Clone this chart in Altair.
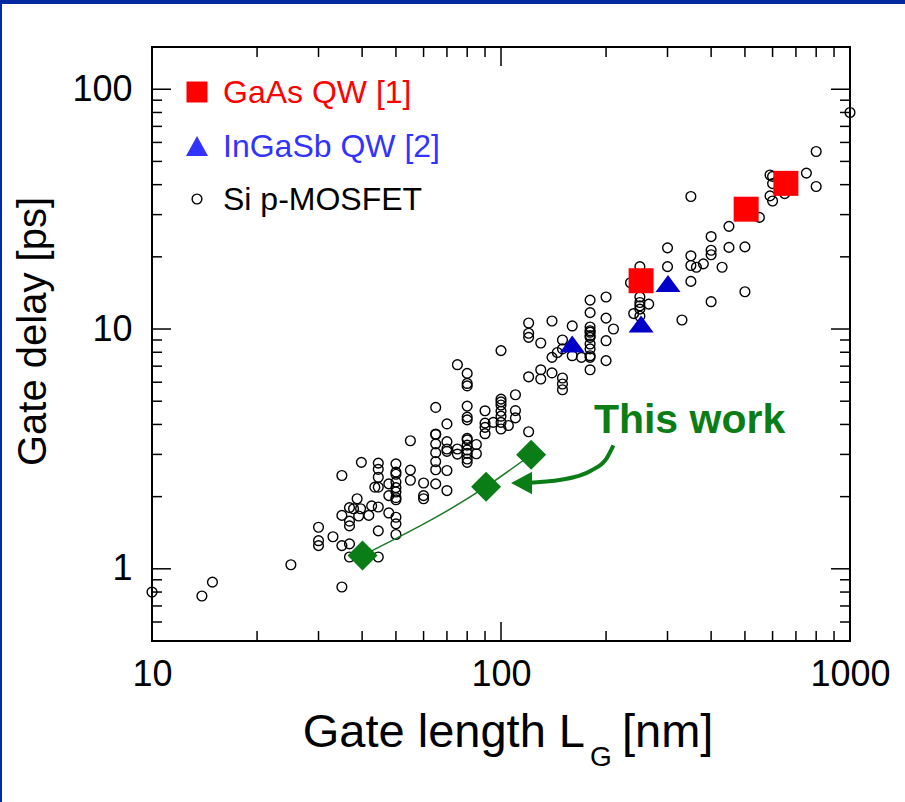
import altair as alt
import pandas as pd

# ---------------- data ----------------
si_L = [10, 13.9, 14.9, 25, 35,
        30, 30, 30, 33,
        35, 35, 35,
        36.8, 36.8, 36.8, 36.8, 36.8,
        37.8, 38.7, 39.6, 39.1, 39.8,
        41.8, 42.6,
        44.5, 44.5, 44.5, 44.5, 44.5, 44.5, 44.5, 43.5,
        47.7, 47.7, 47.7,
        50, 50, 50, 50, 50, 50, 50, 50, 50, 50, 50,
        55, 55, 55,
        60, 60, 60,
        65, 65, 65, 65, 65, 65, 65, 65,
        70, 70, 70, 70, 70, 70,
        75, 75, 75,
        80, 80, 80, 80, 80, 80, 80, 80, 80, 80, 80, 80, 80,
        85, 85,
        90, 90, 90, 90,
        95,
        100, 100, 100, 100, 100, 100, 100, 100,
        105,
        110, 110, 110,
        120, 120, 120, 120, 120,
        130, 130, 130,
        140, 140, 140, 145,
        150, 150, 150, 150, 150,
        160, 160, 170,
        180, 180, 180, 180, 180, 180, 180, 180, 180, 180, 180, 180,
        200, 200, 200, 200, 210,
        235, 240,
        250, 250, 250, 250, 250, 250, 265,
        300, 300, 330,
        350, 350, 350, 350, 363, 380,
        400, 400, 400, 400, 430,
        450, 450, 500, 500, 550,
        590, 590, 600, 600, 600, 650,
        750, 800, 800, 1000]
si_D = [0.80, 0.77, 0.88, 1.04, 0.84,
        1.49, 1.31, 1.25, 1.36,
        1.25, 1.67, 2.45,
        1.27, 1.12, 1.80, 1.58, 1.51,
        1.78, 1.96, 1.78, 1.66, 2.78,
        1.67, 1.83,
        1.81, 1.44, 1.12, 2.19, 2.76, 2.60, 2.41, 2.19,
        1.71, 2.26, 2.02,
        1.64, 1.54, 1.39, 2.74, 2.53, 2.48, 2.30, 2.18, 2.09, 1.98, 1.94,
        3.42, 2.58, 2.34,
        2.28, 2.02, 1.96,
        4.71, 3.65, 3.63, 3.32, 3.05, 2.80, 2.59, 2.26,
        4.02, 3.39, 3.16, 3.09, 2.57, 2.12,
        7.1, 3.16, 3.01,
        6.53, 5.93, 5.79, 4.77, 4.29, 4.18, 3.50, 3.45, 3.28, 3.13, 3.03, 2.87, 2.78,
        3.30, 3.02,
        4.56, 4.05, 3.89, 3.66,
        4.08,
        8.13, 5.1, 4.97, 4.82, 4.54, 4.33, 4.08, 3.83,
        3.96,
        5.32, 4.57, 4.26,
        3.73, 10.6, 9.6, 9.23, 6.32,
        8.74, 6.76, 6.19,
        10.8, 6.56, 7.62, 7.98,
        9.0, 8.26, 6.25, 5.9, 5.58,
        10.3, 7.74, 7.62,
        13.2, 11.7, 10.2, 9.84, 9.7, 9.4, 9.23, 8.66, 8.26, 7.74, 7.62, 6.76,
        13.6, 11.1, 8.94, 7.38, 10.0,
        15.6, 11.6,
        18.2, 13.6, 12.9, 12.5, 12.1, 11.3, 12.7,
        21.8, 18.2, 10.9,
        35.7, 20.2, 18.4, 15.8, 18.1, 18.7,
        24.3, 21.3, 20.4, 13.0, 18.1,
        26.8, 21.9, 22.0, 14.3, 29.2,
        43.9, 35.9, 43.3, 40.4, 34.2, 36.7,
        44.7, 55, 39.3, 80]

gaas_L = [252, 504, 655]
gaas_D = [15.9, 31.6, 40.5]

ingasb_L = [160, 252, 301]
ingasb_D = [8.66, 10.5, 15.5]

this_L = [40.1, 90.6, 122]
this_D = [1.136, 2.2, 2.99]

arrow_L = [118, 148.6, 181.5, 200.5, 210]
arrow_D = [2.28, 2.35, 2.57, 2.88, 3.27]
arrowhead_L = [118]
arrowhead_D = [2.28]

note_L = [347]
note_D = [4.15]
note_text = ["This work"]

legend_labels = ["GaAs QW [1]", "InGaSb QW [2]", "Si p-MOSFET"]

x_tick_labels = [10, 100, 1000]
x_minor = [20, 30, 40, 50, 60, 70, 80, 90, 200, 300, 400, 500, 600, 700, 800, 900]
y_tick_labels = [1, 10, 100]
y_minor = [0.6, 0.7, 0.8, 0.9, 2, 3, 4, 5, 6, 7, 8, 9, 20, 30, 40, 50, 60, 70, 80, 90]

# ---------------- chart ----------------
FONT = "Liberation Sans"
W, H = 698, 594
MAJ, MIN = 19, 10
GREEN = "#0a7d16"
BLUE_FRAME = "#0028a0"

xs = alt.Scale(type="log", domain=[10, 1000], nice=False)
ys = alt.Scale(type="log", domain=[0.5, 150], nice=False)

XAX = alt.Axis(values=x_tick_labels, format="d", labelFontSize=36, labelPadding=16,
               labelFont=FONT, labelColor="black", ticks=False, domain=False, grid=False,
               title=None, labelFlush=False, labelOverlap=False)
YAX = alt.Axis(values=y_tick_labels, format="d", labelFontSize=36, labelPadding=20,
               labelFont=FONT, labelColor="black", ticks=False, domain=False, grid=False,
               labelFlush=False, labelOverlap=False,
               title="Gate delay [ps]", titleFont=FONT, titleFontSize=40,
               titleFontWeight="normal", titleColor="black", titleAngle=270,
               titleAlign="center", titleBaseline="middle", titleX=-119, titleY=284)


def X(f):
    return alt.X(f"{f}:Q", scale=xs, axis=XAX)


def Y(f):
    return alt.Y(f"{f}:Q", scale=ys, axis=YAX)


si_df = pd.DataFrame({"L": si_L, "D": si_D})
gaas_df = pd.DataFrame({"L": gaas_L, "D": gaas_D})
ingasb_df = pd.DataFrame({"L": ingasb_L, "D": ingasb_D})
this_df = pd.DataFrame({"L": this_L, "D": this_D})
arrow_df = pd.DataFrame({"L": arrow_L, "D": arrow_D})
head_df = pd.DataFrame({"L": arrowhead_L, "D": arrowhead_D})
note_df = pd.DataFrame({"L": note_L, "D": note_D, "t": note_text})
one = pd.DataFrame({"a": [0]})

ymaj = pd.DataFrame({"v": y_tick_labels})
ymin = pd.DataFrame({"v": y_minor})
xmaj = pd.DataFrame({"v": x_tick_labels})
xmin = pd.DataFrame({"v": x_minor})

layers = []

# inward ticks on four sides
for df, ln in [(ymaj, MAJ), (ymin, MIN)]:
    layers.append(alt.Chart(df).mark_rule(color="black", strokeWidth=1.5).encode(
        y=Y("v"), x=alt.value(0), x2=alt.value(ln)))
    layers.append(alt.Chart(df).mark_rule(color="black", strokeWidth=1.5).encode(
        y=Y("v"), x=alt.value(W - ln), x2=alt.value(W)))
for df, ln in [(xmaj, MAJ), (xmin, MIN)]:
    layers.append(alt.Chart(df).mark_rule(color="black", strokeWidth=1.5).encode(
        x=X("v"), y=alt.value(0), y2=alt.value(ln)))
    layers.append(alt.Chart(df).mark_rule(color="black", strokeWidth=1.5).encode(
        x=X("v"), y=alt.value(H - ln), y2=alt.value(H)))

# Si p-MOSFET circles
layers.append(alt.Chart(si_df).mark_point(shape="circle", filled=False, size=95, color="black",
                                          strokeWidth=1.4, opacity=1).encode(x=X("L"), y=Y("D")))
# This work line + diamonds
layers.append(alt.Chart(this_df).mark_line(color="#1a7a26", strokeWidth=1.5,
                                           interpolate="monotone").encode(x=X("L"), y=Y("D")))
layers.append(alt.Chart(this_df).mark_point(shape="diamond", filled=True, size=900, color=GREEN,
                                            opacity=1).encode(x=X("L"), y=Y("D")))
# GaAs squares
layers.append(alt.Chart(gaas_df).mark_point(shape="square", filled=True, size=625, color="#ff0000",
                                            opacity=1).encode(x=X("L"), y=Y("D")))
# InGaSb triangles
layers.append(alt.Chart(ingasb_df).mark_point(shape="M0,-0.68L-1,0.68L1,0.68Z", filled=True, size=625,
                                              color="#0000c8", opacity=1).encode(x=X("L"), y=Y("D")))
# arrow + note
layers.append(alt.Chart(arrow_df).mark_line(color=GREEN, strokeWidth=4,
                                            interpolate="monotone").encode(x=X("L"), y=Y("D")))
layers.append(alt.Chart(head_df).mark_point(shape="M-1,0L0.4,-0.75L0.4,0.75Z", filled=True, size=900,
                                            color=GREEN, opacity=1).encode(x=X("L"), y=Y("D")))
layers.append(alt.Chart(note_df).mark_text(font=FONT, fontSize=41, fontWeight="bold", color=GREEN,
                                           align="center", baseline="middle").encode(
    x=X("L"), y=Y("D"), text="t:N"))

# legend (inside plot, upper left)
layers.append(alt.Chart(one).mark_point(shape="square", filled=True, size=441, color="#ff0000",
                                        opacity=1).encode(x=alt.value(45), y=alt.value(45)))
layers.append(alt.Chart(one).mark_point(shape="M0,-0.9L-1,0.9L1,0.9Z", filled=True, size=484,
                                        color="#3333ff", opacity=1).encode(x=alt.value(45), y=alt.value(99)))
layers.append(alt.Chart(one).mark_point(shape="circle", filled=False, size=95, color="black",
                                        strokeWidth=1.4, opacity=1).encode(x=alt.value(45), y=alt.value(152)))
for lab, col, yy in zip(legend_labels, ["#ff0000", "#3333ff", "black"], [46, 100, 153]):
    layers.append(alt.Chart(one).mark_text(text=lab, font=FONT, fontSize=32, color=col, align="left",
                                           baseline="middle").encode(x=alt.value(71), y=alt.value(yy)))

# x-axis title with subscript
layers.append(alt.Chart(one).mark_text(text="Gate length L", font=FONT, fontSize=47, color="black",
                                       align="right", baseline="alphabetic").encode(
    x=alt.value(433), y=alt.value(700)))
layers.append(alt.Chart(one).mark_text(text="G", font=FONT, fontSize=28, color="black",
                                       align="left", baseline="alphabetic").encode(
    x=alt.value(438), y=alt.value(719)))
layers.append(alt.Chart(one).mark_text(text="[nm]", font=FONT, fontSize=47, color="black",
                                       align="left", baseline="alphabetic").encode(
    x=alt.value(470), y=alt.value(700)))

# slide frame (blue)
layers.append(alt.Chart(one).mark_rule(color=BLUE_FRAME, strokeWidth=4).encode(
    x=alt.value(-152), x2=alt.value(W + 55), y=alt.value(-45)))
layers.append(alt.Chart(one).mark_rule(color=BLUE_FRAME, strokeWidth=2).encode(
    x=alt.value(-151), y=alt.value(-47), y2=alt.value(H + 161)))

chart = alt.layer(*layers).properties(
    width=W, height=H,
    autosize=alt.AutoSizeParams(type="none"),
    padding={"left": 152, "top": 47, "right": 55, "bottom": 161},
    background="white",
).configure(font=FONT).configure_view(stroke="black", strokeWidth=2)

chart.save("out.html", embed_options={"renderer": "svg", "actions": False})
